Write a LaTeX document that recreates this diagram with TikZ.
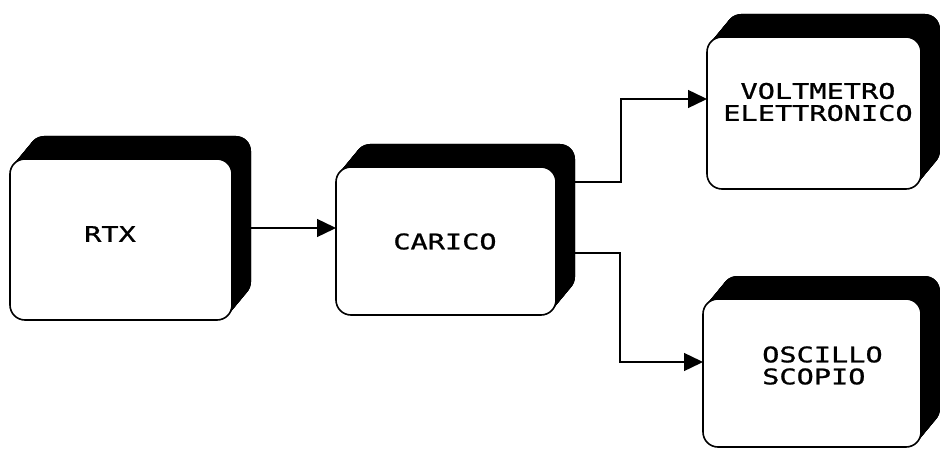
\documentclass[tikz,border=0pt]{standalone}
\usepackage{fontspec}
\newfontfamily\plotfont[FakeStretch=1.33,FakeBold=1.0]{DejaVu Sans Mono}
\usetikzlibrary{arrows.meta,calc}
\begin{document}
\begin{tikzpicture}[x=1pt,y=-1pt,
  boxfront/.style={draw=black,line width=1.6pt,fill=white,rounded corners=15pt,inner sep=0pt,outer sep=0pt},
  boxback/.style={fill=black,rounded corners=15pt,inner sep=0pt,outer sep=0pt},
  lbl/.style={font=\plotfont\fontsize{21.5}{22}\selectfont,inner sep=0pt},
  wire/.style={line width=1.4pt},
  arr/.style={wire,-{Triangle[length=19pt,width=18pt]}}]
\useasboundingbox[fill=white] (0,0) rectangle (940,449);
\foreach \nm/\xa/\ya/\xb/\yb in {rtx/10/159/232/320, cari/336/167/556/315, volt/707/37/921/189, osc/703/299/921/447}{
  \foreach \k in {0,...,23}{
    \fill[rounded corners=15pt] ({\xa+\k*19/23},{\ya-\k}) rectangle ({\xb+\k*19/23},{\yb-\k});
  }
  \node[boxback,minimum width=\xb-\xa,minimum height=\yb-\ya] (\nm sh) at ({(\xa+\xb)/2+19},{(\ya+\yb)/2-23}) {};
  \node[boxfront,minimum width=\xb-\xa,minimum height=\yb-\ya] (\nm) at ({(\xa+\xb)/2},{(\ya+\yb)/2}) {};
}
\node[lbl] (trtx) at (110,234) {RTX};
\node[lbl] (tcari) at (445,241.5) {CARICO};
\node[lbl,align=center] (tvolt) at (818,102) {VOLTMETRO\\ELETTRONICO};
\node[lbl,align=left,anchor=west] (tosc) at (762,365.5) {OSCILLO\\SCOPIO};
\coordinate (r1) at (0,228);
\coordinate (u1) at (621,182);
\coordinate (u2) at (621,99);
\coordinate (l1) at (620,253);
\coordinate (l2) at (620,362);
\draw[arr] (rtxsh.east |- r1) -- (cari.west |- r1);
\draw[arr] (carish.east |- u1) -- (u1) -- (u2) -- (volt.west |- u2);
\draw[arr] (carish.east |- l1) -- (l1) -- (l2) -- (osc.west |- l2);
\end{tikzpicture}
\end{document}
